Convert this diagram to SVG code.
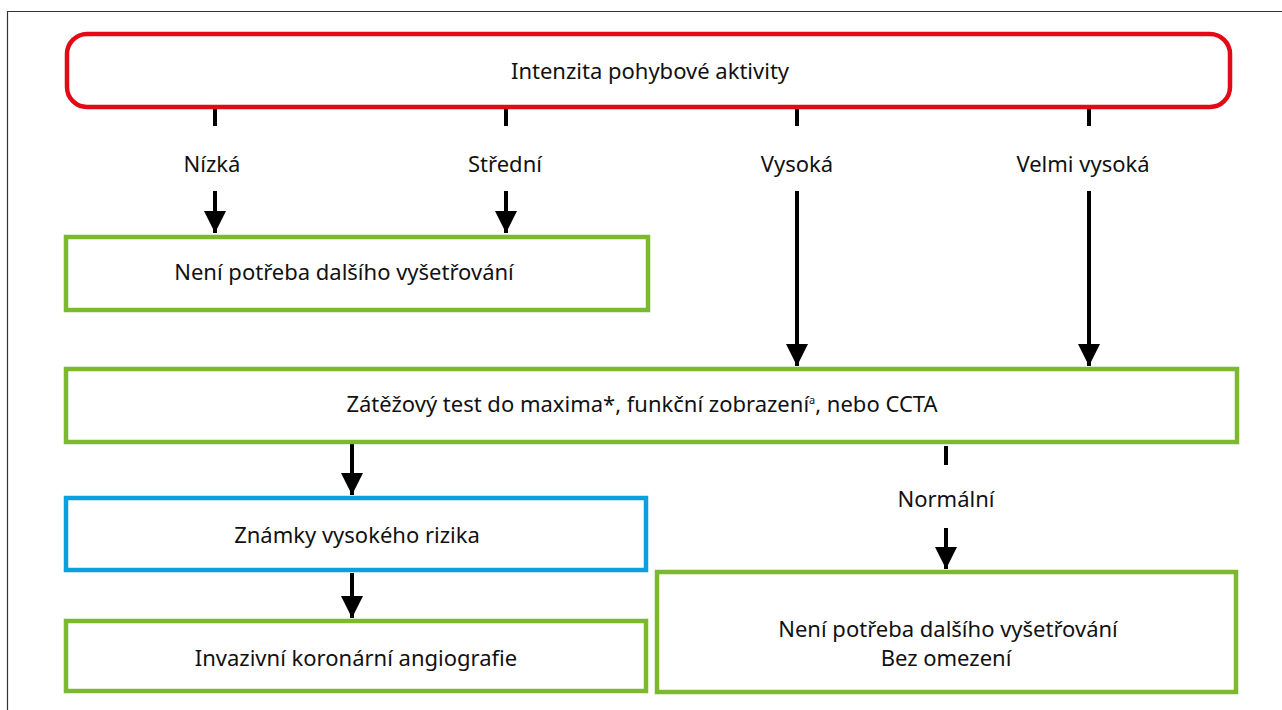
<svg xmlns="http://www.w3.org/2000/svg" width="1282" height="710" viewBox="0 0 1282 710">
<style>
text{font-family:"Noto Sans","Open Sans",sans-serif;font-size:22px;fill:#111;text-anchor:middle}
.g{fill:#fff;stroke:#7cb92e;stroke-width:4.5}
.b{fill:#fff;stroke:#0aa0e0;stroke-width:4.5}
.r{fill:#fff;stroke:#e30a17;stroke-width:4.5}
.c{stroke:#000;stroke-width:4;fill:none}
</style>
<defs>
<marker id="ah" markerUnits="userSpaceOnUse" markerWidth="24" markerHeight="22" viewBox="0 0 24 22" refX="22" refY="11" orient="auto">
<path d="M0,0 L22,11 L0,22 Z" fill="#000"/>
</marker>
</defs>
<rect width="1282" height="710" fill="#fff"/>
<path d="M7.5,710 V11.5 H1282" fill="none" stroke="#333" stroke-width="1.2"/>
<g id="connectors">
<line class="c" x1="215" y1="109" x2="215" y2="126"/>
<line class="c" x1="506" y1="109" x2="506" y2="126"/>
<line class="c" x1="797" y1="109" x2="797" y2="126"/>
<line class="c" x1="1089" y1="109" x2="1089" y2="126"/>
<line class="c" x1="215" y1="191" x2="215" y2="233" marker-end="url(#ah)"/>
<line class="c" x1="506" y1="191" x2="506" y2="233" marker-end="url(#ah)"/>
<line class="c" x1="797" y1="191" x2="797" y2="366" marker-end="url(#ah)"/>
<line class="c" x1="1089" y1="191" x2="1089" y2="366" marker-end="url(#ah)"/>
<line class="c" x1="352" y1="444" x2="352" y2="495" marker-end="url(#ah)"/>
<line class="c" x1="946" y1="446" x2="946" y2="465"/>
<line class="c" x1="946" y1="528" x2="946" y2="569" marker-end="url(#ah)"/>
<line class="c" x1="352" y1="573" x2="352" y2="618" marker-end="url(#ah)"/>
</g>
<g id="n-intenzita">
<rect class="r" x="67" y="34" width="1163" height="73" rx="20"/>
<text x="650" y="79">Intenzita pohybové aktivity</text>
</g>
<g id="l-nizka"><text x="212" y="172">Nízká</text></g>
<g id="l-stredni"><text x="505" y="172">Střední</text></g>
<g id="l-vysoka"><text x="797" y="172">Vysoká</text></g>
<g id="l-velmi"><text x="1083" y="172">Velmi vysoká</text></g>
<g id="n-neni1">
<rect class="g" x="66" y="237" width="582" height="73"/>
<text x="344" y="280">Není potřeba dalšího vyšetřování</text>
</g>
<g id="n-zatez">
<rect class="g" x="66" y="369" width="1171" height="73"/>
<text x="642" y="412">Zátěžový test do maxima*, funkční zobrazení<tspan font-size="11" dy="-8">a</tspan><tspan dy="8">, nebo CCTA</tspan></text>
</g>
<g id="n-znamky">
<rect class="b" x="66" y="498" width="580" height="72"/>
<text x="357" y="543">Známky vysokého rizika</text>
</g>
<g id="l-normalni"><text x="946" y="507">Normální</text></g>
<g id="n-invazivni">
<rect class="g" x="66" y="621" width="580" height="70"/>
<text x="356" y="666">Invazivní koronární angiografie</text>
</g>
<g id="n-neni2">
<rect class="g" x="657" y="572" width="579" height="120"/>
<text x="948" y="637">Není potřeba dalšího vyšetřování</text>
<text x="946" y="666">Bez omezení</text>
</g>
</svg>
